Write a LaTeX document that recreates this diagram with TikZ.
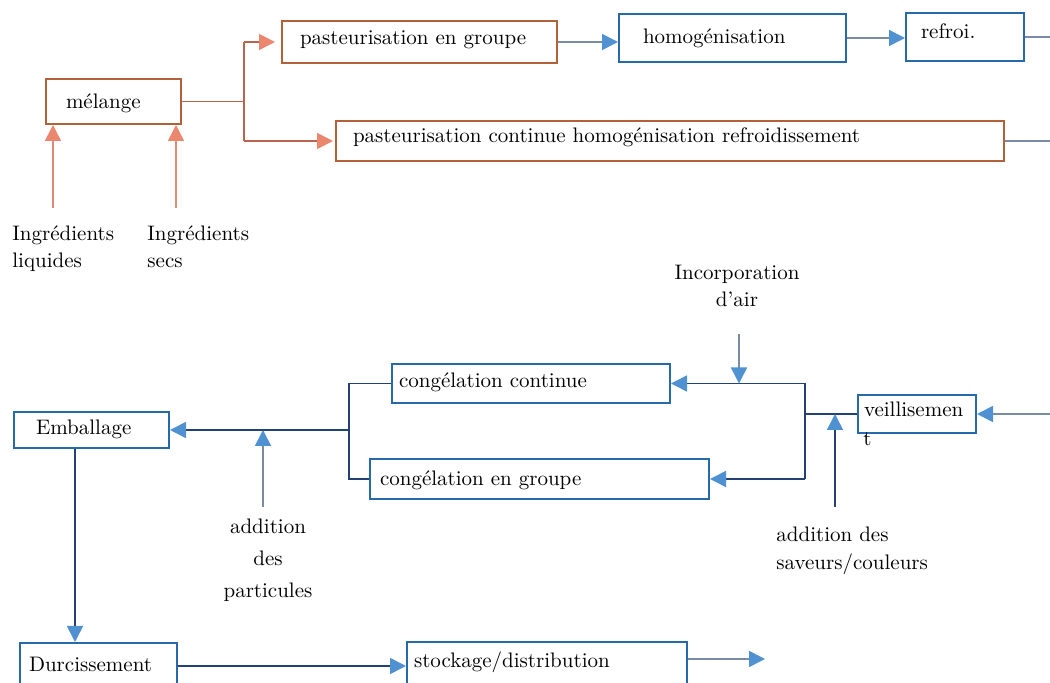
\documentclass[tikz,border=0pt]{standalone}
\usetikzlibrary{arrows.meta}
\definecolor{obox}{RGB}{178,98,58}
\definecolor{oline}{RGB}{185,100,80}
\definecolor{oin}{RGB}{222,140,120}
\definecolor{ohead}{RGB}{235,135,110}
\definecolor{bbox}{RGB}{40,105,170}
\definecolor{bline}{RGB}{35,65,115}
\definecolor{gline}{RGB}{120,140,165}
\definecolor{bhead}{RGB}{80,145,210}
\begin{document}
\begin{tikzpicture}[x=0.5pt,y=-0.5pt,font=\fontsize{10.5}{12.5}\selectfont,
  box/.style={draw, rectangle, anchor=north west, inner ysep=0pt, line width=1pt, align=left},
  obx/.style={box, draw=obox},
  bbx/.style={box, draw=bbox},
  otip/.style={-{Triangle[length=8pt,width=8pt,color=ohead]}},
  btip/.style={-{Triangle[length=8pt,width=8pt,color=bhead]}},
  ol/.style={draw=oline, line width=0.8pt},
  bl/.style={draw=bline, line width=0.8pt},
  gl/.style={draw=gline, line width=0.8pt},
  lbl/.style={inner sep=0pt}]
\useasboundingbox[fill=white] (0,0) rectangle (1050,683);

% --- top boxes
\node[obx, inner xsep=10pt, text width=47.5pt, text height=15pt, text depth=7.5pt] (melange) at (45,78) {mélange};
\node[obx, inner xsep=9pt, text width=119.5pt, text height=12pt, text depth=9pt] (pgroupe) at (281,20) {pasteurisation en groupe};
\node[bbx, inner xsep=12pt, text width=89.5pt, text height=15pt, text depth=9pt] (homog) at (618,13) {homogénisation};
\node[bbx, inner xsep=7.5pt, text width=44pt, text height=13pt, text depth=11pt] (refroi) at (905,12) {refroi.};
\node[obx, inner xsep=8.5pt, text width=317pt, text height=11pt, text depth=9pt] (pcont) at (335,120) {pasteurisation continue homogénisation refroidissement};

% --- bottom boxes
\node[bbx, inner xsep=11pt, text width=55.5pt, text height=11.5pt, text depth=6.5pt] (emb) at (13,411) {Emballage};
\node[bbx, inner xsep=3.5pt, text width=132pt, text height=12pt, text depth=7.5pt] (ccont) at (391,363) {congélation continue};
\node[bbx, inner xsep=5pt, text width=159.5pt, text height=13.5pt, text depth=6.5pt] (cgrp) at (369,458) {congélation en groupe};
\node[bbx, inner xsep=3pt, text width=53pt, text height=11pt, text depth=8pt] (veil) at (857,394) {veillisemen};
\node[lbl, anchor=base west] (veilt) at (863,446) {t};
\node[bbx, inner xsep=4.5pt, text width=69.5pt, text height=14.5pt, text depth=8.5pt] (durc) at (19,642) {Durcissement};
\node[bbx, inner xsep=3.5pt, text width=133pt, text height=13pt, text depth=11pt] (stock) at (406,641) {stockage/distribution};

% --- labels (anchor base = baseline of last line)
\node[lbl, anchor=base west, align=left, font=\fontsize{10.5}{13.5}\selectfont] (liqtxt) at (12,268) {Ingrédients\\liquides};
\node[lbl, anchor=base west, align=left, font=\fontsize{10.5}{13.5}\selectfont] (sectxt) at (147,268) {Ingrédients\\secs};
\node[lbl, anchor=base, align=center, font=\fontsize{10.5}{13.5}\selectfont] (airtxt) at (737,307) {Incorporation\\d'air};
\node[lbl, anchor=base, align=center, font=\fontsize{10.5}{16}\selectfont] (parttxt) at (268,598) {addition\\des\\particules};
\node[lbl, anchor=base west, align=left, font=\fontsize{10.5}{14}\selectfont] (savtxt) at (776,570) {addition des\\saveurs/couleurs};

% --- top connectors
\coordinate (j) at (244,0);
\draw[ol] (melange.east) -- (melange.east -| j);
\draw[ol] (j |- pgroupe.west) -- (j |- pcont.west);
\draw[ol, otip, shorten >=3pt] (j |- pgroupe.west) -- (pgroupe.west);
\draw[ol, otip, shorten >=1pt] (j |- pcont.west) -- (pcont.west);
\coordinate (liq) at (53,208);
\coordinate (sec) at (176,208);
\draw[draw=oin, line width=0.8pt, otip] (liq) -- (liq |- melange.south);
\draw[draw=oin, line width=0.8pt, otip] (sec) -- (sec |- melange.south);
\draw[gl, btip] (pgroupe.east) -- (pgroupe.east -| homog.west);
\draw[gl, btip] (homog.east) -- (homog.east -| refroi.west);
\coordinate (rout) at (1050,36);
\draw[gl] (refroi.east) -- (refroi.east -| rout);
\draw[gl] (pcont.east) -- (pcont.east -| rout);

% --- bottom connectors
\coordinate (vin) at (1050,0);
\draw[gl, btip] (veil.east -| vin) -- (veil.east);
\coordinate (jb) at (805,0);
\draw[bl] (veil.west) -- (veil.west -| jb);
\draw[bl] (jb |- ccont.east) -- (jb |- cgrp.east);
\draw[bl, btip] (jb |- ccont.east) -- (ccont.east);
\draw[bl, btip] (jb |- cgrp.east) -- (cgrp.east);
\coordinate (airtop) at (739,334);
\draw[gl, btip] (airtop) -- (airtop |- ccont.east);
\coordinate (savbot) at (835,507);
\draw[bl, btip] (savbot) -- (savbot |- veil.west);
\coordinate (jc) at (349,0);
\draw[bl] (ccont.west) -- (ccont.west -| jc) -- (cgrp.west -| jc) -- (cgrp.west);
\draw[bl, btip] (emb.east -| jc) -- (emb.east);
\coordinate (partbot) at (263,507);
\draw[gl, btip] (partbot) -- (partbot |- emb.east);
\coordinate (dx) at (75,0);
\draw[bl, btip] (emb.south -| dx) -- (durc.north -| dx);
\draw[bl, btip] (durc.east) -- (durc.east -| stock.west);
\coordinate (sout) at (765,659);
\draw[gl, btip] (stock.east |- sout) -- (sout);
\end{tikzpicture}
\end{document}
